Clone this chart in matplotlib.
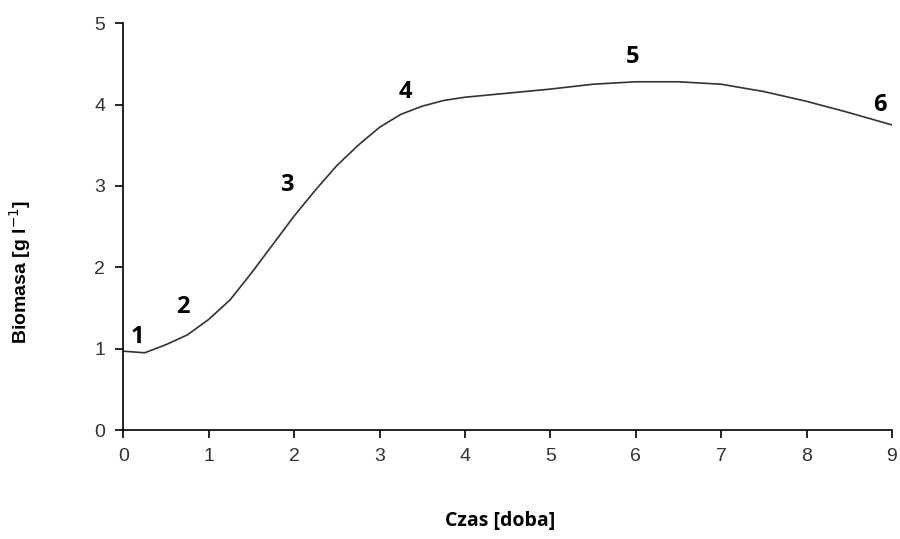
import numpy as np
import matplotlib
matplotlib.use('Agg')
from matplotlib import pyplot as plt

# biomass curve
czas = [0, 0.25, 0.5, 0.75, 1.0, 1.25, 1.5, 1.75, 2.0, 2.25, 2.5, 2.75, 3.0,
        3.25, 3.5, 3.75, 4.0, 4.5, 5.0, 5.5, 6.0, 6.5, 7.0, 7.5, 8.0, 8.5, 9.0]
biomasa = [0.97, 0.95, 1.05, 1.17, 1.36, 1.6, 1.93, 2.28, 2.63, 2.95, 3.25, 3.5, 3.72,
           3.88, 3.98, 4.05, 4.09, 4.14, 4.19, 4.25, 4.28, 4.28, 4.25, 4.16, 4.04, 3.9, 3.75]

# stage markers
etykiety = ['1', '2', '3', '4', '5', '6']
etyk_x = [0.16, 0.70, 1.91, 3.30, 5.96, 8.86]
etyk_y = [1.14, 1.51, 3.01, 4.16, 4.58, 4.0]

fig = plt.figure(figsize=(9, 5.39), dpi=100)
ax = fig.add_axes([0.137, 0.202, 0.854, 0.755])

ax.plot(czas, biomasa, color='#333333', lw=1.2, solid_joinstyle='round')

for t, x, y in zip(etykiety, etyk_x, etyk_y):
    ax.text(x, y, t, ha='center', va='center', fontsize=17, fontweight='bold',
            family='Open Sans', color='black')

ax.set_xlim(0, 9)
ax.set_ylim(0, 5)
ax.set_xticks(range(0, 10))
ax.set_yticks(range(0, 6))
for s in ['top', 'right']:
    ax.spines[s].set_visible(False)
for s in ['left', 'bottom']:
    ax.spines[s].set_linewidth(1.2)
ax.tick_params(direction='out', length=6, width=1.2, labelsize=14, pad=7,
               labelcolor='#333333')
for lab in ax.get_xticklabels() + ax.get_yticklabels():
    lab.set_family('Liberation Sans')

ax.set_ylabel('Biomasa [g l$^{-1}$]', family='Liberation Sans', fontweight='bold',
              fontsize=14)
ax.yaxis.set_label_coords(-0.118, 0.39)
ax.set_xlabel('Czas [doba]', family='Open Sans', fontweight='bold', fontsize=14)
ax.xaxis.set_label_coords(0.49, -0.199)

fig.savefig('out.png', dpi=100)
